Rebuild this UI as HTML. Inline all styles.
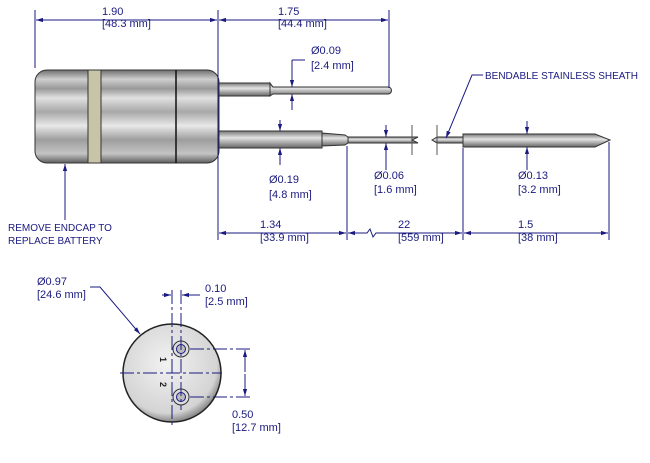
<!DOCTYPE html>
<html><head><style>
html,body{margin:0;padding:0;background:#fff;}
svg text{font-family:"Liberation Sans",sans-serif;font-size:11px;fill:#1a1a80;}
</style></head><body>
<svg width="650" height="458" viewBox="0 0 650 458" xmlns="http://www.w3.org/2000/svg">
<defs>
<linearGradient id="g" x1="0" y1="0" x2="0" y2="1">
<stop offset="0" stop-color="#6e6e6e"/><stop offset="0.1" stop-color="#cfcfcf"/>
<stop offset="0.2" stop-color="#999"/><stop offset="0.3" stop-color="#e0e0e0"/>
<stop offset="0.45" stop-color="#a8a8a8"/><stop offset="0.6" stop-color="#e8e8e8"/>
<stop offset="0.75" stop-color="#9e9e9e"/><stop offset="0.9" stop-color="#c4c4c4"/>
<stop offset="1" stop-color="#5e5e5e"/></linearGradient>
<linearGradient id="p" x1="0" y1="0" x2="0" y2="1">
<stop offset="0" stop-color="#777"/><stop offset="0.4" stop-color="#e4e4e4"/><stop offset="1" stop-color="#666"/></linearGradient>
<radialGradient id="c" cx="0.45" cy="0.4" r="0.6"><stop offset="0" stop-color="#f2f2f2"/><stop offset="0.85" stop-color="#d4d4d4"/><stop offset="1" stop-color="#888"/></radialGradient>
<marker id="a" viewBox="0 0 10 10" refX="10" refY="5" markerWidth="7" markerHeight="7" orient="auto-start-reverse"><path d="M0,2 L10,5 L0,8z" fill="#1a1a80"/></marker>
</defs>
<g stroke="#333" stroke-width="1">
<rect x="216" y="83" width="54" height="13" fill="url(#p)"/>
<path d="M270,83 L273,87 L388,87 A3.5,3.5 0 0 1 388,94 L273,94 L270,96z" fill="url(#p)"/>
<rect x="216" y="131" width="106" height="17" fill="url(#p)"/>
<path d="M322,133 L345,135 L348,137 L348,143 L345,145 L322,146z" fill="url(#p)"/>
<path d="M348,137 L418,137 L412,140 L418,143 L348,143z" fill="url(#p)"/>
<path d="M432,140 L437,137 L463,137 L463,143 L437,143z" fill="url(#p)"/>
<path d="M463,134 L595,134 L610,140 L595,147 L463,147z" fill="url(#p)"/>
<rect x="35" y="70" width="184" height="93" rx="12" fill="url(#g)"/>
<rect x="88" y="70" width="13" height="93" fill="#c8c4a8"/>
</g>
<line x1="176" y1="70" x2="176" y2="163" stroke="#111" stroke-width="1.5"/>
<line x1="412" y1="125" x2="412" y2="155" stroke="#555"/>
<line x1="437" y1="125" x2="437" y2="155" stroke="#555"/>
<g stroke="#1a1a80" stroke-width="1" fill="none">
<line x1="35" y1="10" x2="35" y2="68"/>
<line x1="218" y1="10" x2="218" y2="240"/>
<line x1="389" y1="10" x2="389" y2="88"/>
<line x1="36" y1="20" x2="217" y2="20" marker-start="url(#a)" marker-end="url(#a)"/>
<line x1="219" y1="20" x2="388" y2="20" marker-start="url(#a)" marker-end="url(#a)"/>
<line x1="292" y1="60" x2="292" y2="87" marker-end="url(#a)"/>
<line x1="292" y1="110" x2="292" y2="94" marker-end="url(#a)"/>
<polyline points="292,60 305,60"/>
<line x1="280" y1="120" x2="280" y2="131" marker-end="url(#a)"/>
<line x1="280" y1="165" x2="280" y2="148" marker-end="url(#a)"/>
<line x1="386" y1="125" x2="386" y2="137" marker-end="url(#a)"/>
<line x1="386" y1="170" x2="386" y2="143" marker-end="url(#a)"/>
<line x1="527" y1="121" x2="527" y2="134" marker-end="url(#a)"/>
<line x1="527" y1="170" x2="527" y2="147" marker-end="url(#a)"/>
<line x1="347" y1="146" x2="347" y2="240"/>
<line x1="463" y1="148" x2="463" y2="240"/>
<line x1="609" y1="142" x2="609" y2="240"/>
<line x1="219" y1="233" x2="346" y2="233" marker-start="url(#a)" marker-end="url(#a)"/>
<polyline points="348,233 367,233 370,229 373,237 376,233 462,233" marker-start="url(#a)" marker-end="url(#a)"/>
<line x1="464" y1="233" x2="608" y2="233" marker-start="url(#a)" marker-end="url(#a)"/>
<polyline points="483,75 472,75 446,138" marker-end="url(#a)"/>
<line x1="65" y1="220" x2="65" y2="164" marker-end="url(#a)"/>
</g>
<text x="102" y="15">1.90</text><text x="102" y="27">[48.3 mm]</text>
<text x="278" y="15">1.75</text><text x="278" y="27">[44.4 mm]</text>
<text x="311" y="54">Ø0.09</text><text x="311" y="69">[2.4 mm]</text>
<text x="269" y="183">Ø0.19</text><text x="269" y="198">[4.8 mm]</text>
<text x="374" y="179">Ø0.06</text><text x="374" y="193">[1.6 mm]</text>
<text x="518" y="179">Ø0.13</text><text x="518" y="193">[3.2 mm]</text>
<text x="260" y="228">1.34</text><text x="260" y="241">[33.9 mm]</text>
<text x="398" y="228">22</text><text x="398" y="241">[559 mm]</text>
<text x="518" y="228">1.5</text><text x="518" y="241">[38 mm]</text>
<text x="485" y="79" style="font-size:10px">BENDABLE STAINLESS SHEATH</text>
<text x="8" y="231" style="font-size:10px">REMOVE ENDCAP TO</text>
<text x="8" y="244" style="font-size:10px">REPLACE BATTERY</text>
<circle cx="172" cy="373" r="49" fill="url(#c)" stroke="#222" stroke-width="1.5"/>
<circle cx="181" cy="349" r="8" fill="#ddd" stroke="#333"/><circle cx="181" cy="349" r="4.5" fill="#bbb" stroke="#1a1a80"/>
<circle cx="181" cy="397" r="8" fill="#ddd" stroke="#333"/><circle cx="181" cy="397" r="4.5" fill="#bbb" stroke="#1a1a80"/>
<text x="160" y="363" style="font-size:9px;font-weight:bold;fill:#222" transform="rotate(90 163 360)">1</text>
<text x="160" y="388" style="font-size:9px;font-weight:bold;fill:#222" transform="rotate(90 163 385)">2</text>
<g stroke="#1a1a80" stroke-width="1" fill="none">
<line x1="172" y1="290" x2="172" y2="425" stroke-dasharray="14,3,3,3"/>
<line x1="181" y1="290" x2="181" y2="410" stroke-dasharray="14,3,3,3"/>
<line x1="120" y1="373" x2="222" y2="373" stroke-dasharray="14,3,3,3"/>
<line x1="190" y1="349" x2="253" y2="349" stroke-dasharray="14,3,3,3"/>
<line x1="190" y1="397" x2="253" y2="397" stroke-dasharray="14,3,3,3"/>
<line x1="245" y1="372" x2="245" y2="350" marker-end="url(#a)"/>
<line x1="245" y1="374" x2="245" y2="396" marker-end="url(#a)"/>
<line x1="162" y1="295" x2="171" y2="295" marker-end="url(#a)"/>
<line x1="200" y1="295" x2="182" y2="295" marker-end="url(#a)"/>
<polyline points="90,287 100,287 140,334" marker-end="url(#a)"/>
</g>
<text x="37" y="285">Ø0.97</text><text x="37" y="298">[24.6 mm]</text>
<text x="205" y="292">0.10</text><text x="205" y="305">[2.5 mm]</text>
<text x="232" y="418">0.50</text><text x="232" y="431">[12.7 mm]</text>
</svg>
</body></html>
